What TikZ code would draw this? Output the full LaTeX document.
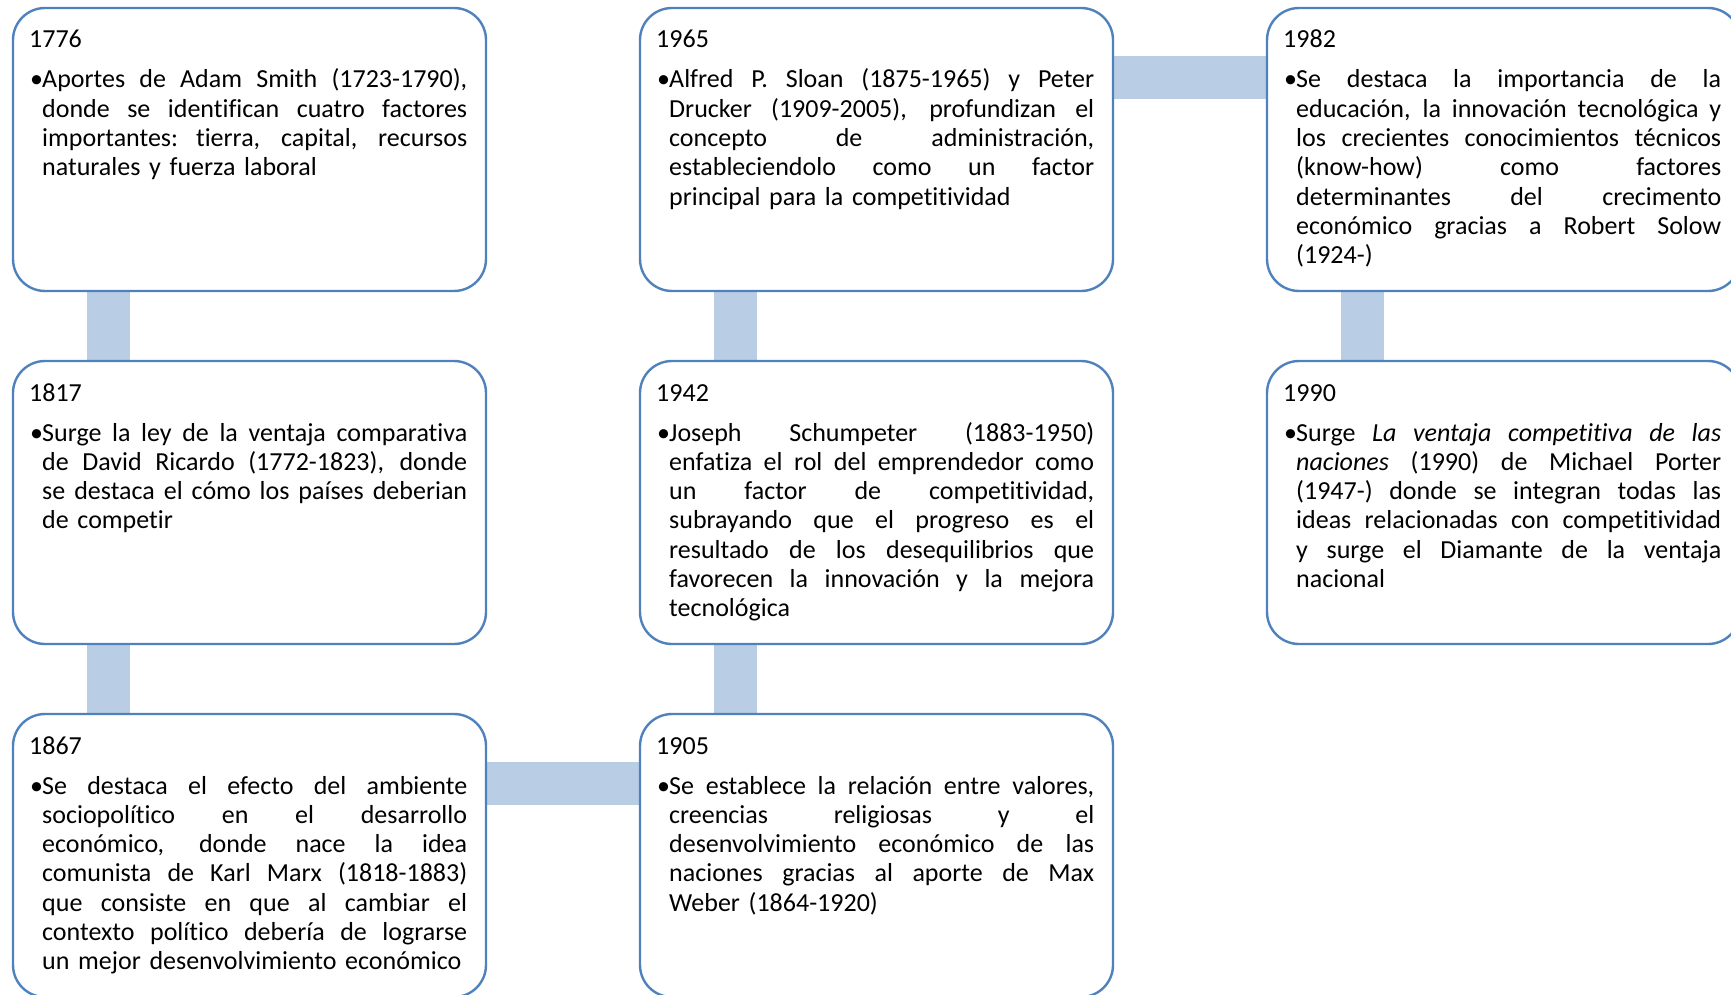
\documentclass[tikz,border=0pt]{standalone}
\usepackage{fontspec}
\setmainfont{Carlito}[Ligatures={NoCommon}]
\usetikzlibrary{calc,backgrounds}

\definecolor{frameblue}{HTML}{4F81BD}
\definecolor{linkblue}{HTML}{B9CDE5}

% width of the justified text column after the bullet
\newlength\bodyw
\setlength\bodyw{425pt}
% a fully justified line (spaces share the free room), and a last (ragged) line
\newcommand\fullln[1]{\hbox to\bodyw{\spaceskip=\fontdimen2\font plus 1fil\relax
  \xspaceskip=\spaceskip #1}\\}
\newcommand\lastln[1]{\hbox to\bodyw{#1\hfil}}
% bullet in the hanging indent, and the indent for the following lines
\newcommand\bul{\makebox[12pt][l]{•}}
\newcommand\ind{\hspace*{12pt}}

\tikzset{
  event/.style={draw=frameblue, line width=2.4pt, fill=white, rounded corners=32pt,
    minimum width=473pt, minimum height=283pt, inner sep=0pt, outer sep=0pt,
    anchor=north west},
  yeartext/.style={inner sep=0pt, anchor=base west,
    font=\fontsize{26pt}{29.3pt}\selectfont},
  bodytext/.style={inner sep=0pt, anchor=base west, text width=437pt, align=left,
    font=\fontsize{26pt}{29.3pt}\selectfont},
  link/.style={fill=linkblue}
}

\begin{document}
\begin{tikzpicture}[x=1pt,y=-1pt]
\useasboundingbox (0,0) rectangle (1731,995);
\clip (0,0) rectangle (1731,995);

% timeline boxes
\node[event] (b1776) at (13,8) {};
\node[event] (b1817) at (13,361) {};
\node[event] (b1867) at (13,714) {};
\node[event] (b1965) at (640,8) {};
\node[event] (b1942) at (640,361) {};
\node[event] (b1905) at (640,714) {};
\node[event] (b1982) at (1267,8) {};
\node[event] (b1990) at (1267,361) {};

% connecting bars behind the boxes
\begin{scope}[on background layer]
\fill[link] ($(b1776.south west)+(74,-3)$) rectangle ($(b1817.north west)+(117,3)$);
\fill[link] ($(b1817.south west)+(74,-3)$) rectangle ($(b1867.north west)+(117,3)$);
\fill[link] ($(b1965.south west)+(74,-3)$) rectangle ($(b1942.north west)+(117,3)$);
\fill[link] ($(b1942.south west)+(74,-3)$) rectangle ($(b1905.north west)+(117,3)$);
\fill[link] ($(b1982.south west)+(74,-3)$) rectangle ($(b1990.north west)+(117,3)$);
\fill[link] ($(b1965.north east)+(-3,48)$) rectangle ($(b1982.north west)+(3,91)$);
\fill[link] ($(b1867.north east)+(-3,48)$) rectangle ($(b1905.north west)+(3,91)$);
\end{scope}

% years
\node[yeartext] (y1776) at ($(b1776.north west)+(16,40)$) {1776};
\node[yeartext] (y1817) at ($(b1817.north west)+(16,40)$) {1817};
\node[yeartext] (y1867) at ($(b1867.north west)+(16,40)$) {1867};
\node[yeartext] (y1965) at ($(b1965.north west)+(16,40)$) {1965};
\node[yeartext] (y1942) at ($(b1942.north west)+(16,40)$) {1942};
\node[yeartext] (y1905) at ($(b1905.north west)+(16,40)$) {1905};
\node[yeartext] (y1982) at ($(b1982.north west)+(16,40)$) {1982};
\node[yeartext] (y1990) at ($(b1990.north west)+(16,40)$) {1990};

% descriptions
\node[bodytext] (t1776) at ($(b1776.north west)+(17,80)$) {%
\bul\fullln{Aportes de Adam Smith (1723-1790),}
\ind\fullln{donde se identifican cuatro factores}
\ind\fullln{importantes: tierra, capital, recursos}
\ind\lastln{naturales y fuerza laboral}};

\node[bodytext] (t1817) at ($(b1817.north west)+(17,80)$) {%
\bul\fullln{Surge la ley de la ventaja comparativa}
\ind\fullln{de David Ricardo (1772-1823), donde}
\ind\fullln{se destaca el cómo los países deberian}
\ind\lastln{de competir}};

\node[bodytext] (t1867) at ($(b1867.north west)+(17,80)$) {%
\bul\fullln{Se destaca el efecto del ambiente}
\ind\fullln{sociopolítico en el desarrollo}
\ind\fullln{económico, donde nace la idea}
\ind\fullln{comunista de Karl Marx (1818-1883)}
\ind\fullln{que consiste en que al cambiar el}
\ind\fullln{contexto político debería de lograrse}
\ind\lastln{un mejor desenvolvimiento económico}};

\node[bodytext] (t1965) at ($(b1965.north west)+(17,80)$) {%
\bul\fullln{Alfred P. Sloan (1875-1965) y Peter}
\ind\fullln{Drucker (1909-2005), profundizan el}
\ind\fullln{concepto de administración,}
\ind\fullln{estableciendolo como un factor}
\ind\lastln{principal para la competitividad}};

\node[bodytext] (t1942) at ($(b1942.north west)+(17,80)$) {%
\bul\fullln{Joseph Schumpeter (1883-1950)}
\ind\fullln{enfatiza el rol del emprendedor como}
\ind\fullln{un factor de competitividad,}
\ind\fullln{subrayando que el progreso es el}
\ind\fullln{resultado de los desequilibrios que}
\ind\fullln{favorecen la innovación y la mejora}
\ind\lastln{tecnológica}};

\node[bodytext] (t1905) at ($(b1905.north west)+(17,80)$) {%
\bul\fullln{Se establece la relación entre valores,}
\ind\fullln{creencias religiosas y el}
\ind\fullln{desenvolvimiento económico de las}
\ind\fullln{naciones gracias al aporte de Max}
\ind\lastln{Weber (1864-1920)}};

\node[bodytext] (t1982) at ($(b1982.north west)+(17,80)$) {%
\bul\fullln{Se destaca la importancia de la}
\ind\fullln{educación, la innovación tecnológica y}
\ind\fullln{los crecientes conocimientos técnicos}
\ind\fullln{(know-how) como factores}
\ind\fullln{determinantes del crecimento}
\ind\fullln{económico gracias a Robert Solow}
\ind\lastln{(1924-)}};

\node[bodytext] (t1990) at ($(b1990.north west)+(17,80)$) {%
\bul\fullln{Surge \textit{La ventaja competitiva de las}}
\ind\fullln{\textit{naciones} (1990) de Michael Porter}
\ind\fullln{(1947-) donde se integran todas las}
\ind\fullln{ideas relacionadas con competitividad}
\ind\fullln{y surge el Diamante de la ventaja}
\ind\lastln{nacional}};
\end{tikzpicture}
\end{document}
